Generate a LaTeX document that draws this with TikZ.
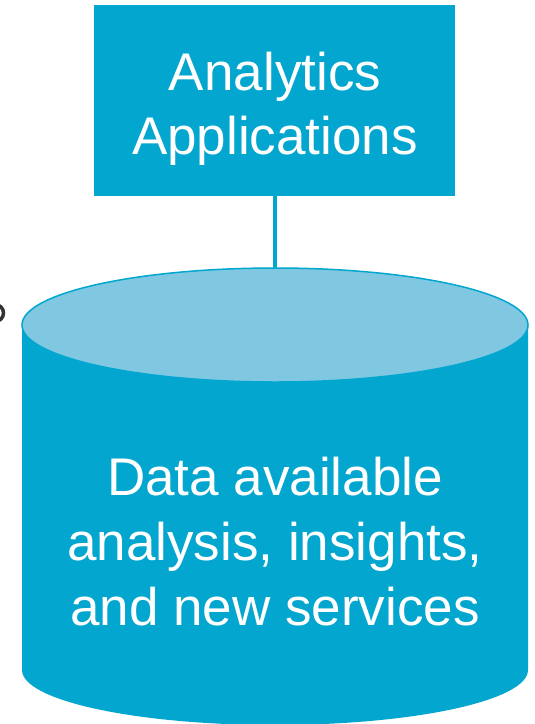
\documentclass[tikz,border=0pt]{standalone}
\usepackage{fontspec}
\setmainfont{Liberation Sans}
\definecolor{cylblue}{HTML}{02A6CE}
\definecolor{toplight}{HTML}{80C8E2}
\definecolor{fragdark}{HTML}{333333}
\begin{document}
\begin{tikzpicture}[x=1pt,y=-1pt,
  boxstyle/.style={fill=cylblue, draw=none},
  labeltext/.style={text=white, align=center, inner sep=0pt},
  linkline/.style={draw=cylblue, line width=4pt}]
\clip (0,0) rectangle (535,724);
% fragment at the left edge
\draw[fragdark, line width=3.5pt] (-5,313) circle (8.5);
% cylinder body
\fill[cylblue] (22,325) -- (22,670) arc[start angle=180, end angle=0, x radius=253, y radius=55] -- (528,325) -- cycle;
% cylinder top
\filldraw[fill=toplight, draw=cylblue, line width=1.5pt] (275,325) ellipse[x radius=253, y radius=57];
\coordinate (cyltop) at (275,268);
% box
\fill[boxstyle] (94,5) rectangle (455,196);
\coordinate (boxbottom) at (275,196);
\node[labeltext, font={\fontsize{53}{63.5}\selectfont}] (apps) at (275,109) {Analytics\\Applications};
\draw[linkline] (boxbottom) -- (cyltop);
\node[labeltext, font={\fontsize{53}{65}\selectfont}] (data) at (275,542) {Data available\\analysis, insights,\\and new services};
\end{tikzpicture}
\end{document}
